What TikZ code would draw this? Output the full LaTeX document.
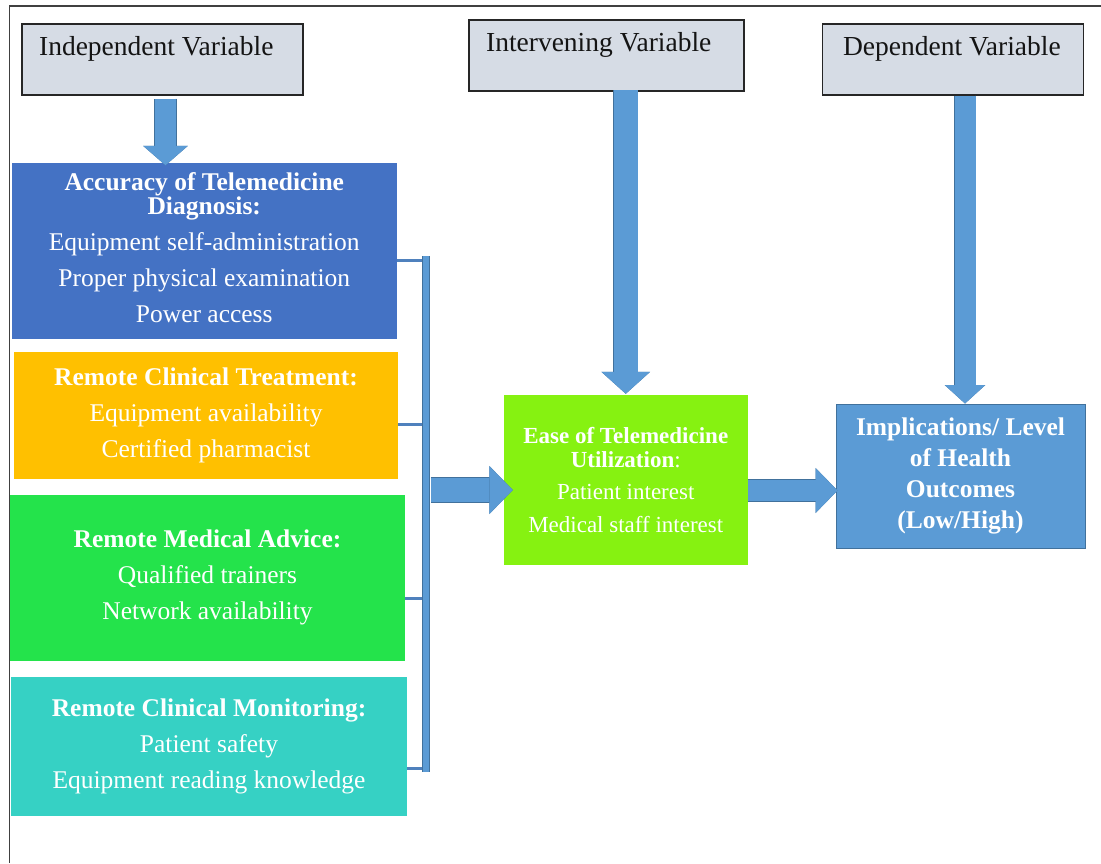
\documentclass[tikz,border=0pt]{standalone}
\usepackage{fontspec}
\setmainfont{Liberation Serif}
\usetikzlibrary{arrows.meta,positioning}
\begin{document}
\begin{tikzpicture}[x=1pt,y=-1pt,
  varbox/.style={draw=r38g38b38, line width=1.2pt, fill=r214g220b229, minimum height=71pt, inner sep=0pt},
  vartext/.style={inner sep=0pt, text=r20g20b20, font=\fontsize{27.5}{30}\selectfont},
  factor/.style={inner sep=0pt, text=white, align=center, font=\fontsize{25.5}{24}\selectfont},
  bigarrow/.style args={#1/#2/#3}{draw=r91g155b213, line width=#1,
    -{Triangle[length=#3,width=#2,line width=0pt]},
    preaction={draw=r65g113b156, line width=#1+1.4pt, -{Triangle[length=#3,width=#2,line width=1.4pt]}}},
  joinbar/.style={draw=r65g113b156, line width=1.2pt, double=r91g155b213, double distance=6.5pt},
  jointick/.style={draw=r79g129b189, line width=3pt}]
                            \useasboundingbox (0,0) rectangle (1101,863);
                            
                            % Colours
                            \definecolor{r38g38b38}{RGB}{38,38,38}%
                            \definecolor{r20g20b20}{RGB}{20,20,20}%
                            \definecolor{r64g64b64}{RGB}{64,64,64}%
                            \definecolor{r214g220b229}{RGB}{214,220,229}%
                            \definecolor{r68g114b196}{RGB}{68,114,196}%
                            \definecolor{r255g192b0}{RGB}{255,192,0}%
                            \definecolor{r36g227b75}{RGB}{36,227,75}%
                            \definecolor{r54g209b196}{RGB}{54,209,196}%
                            \definecolor{r134g242b17}{RGB}{134,242,17}%
                            \definecolor{r91g155b213}{RGB}{91,155,213}%
                            \definecolor{r65g113b156}{RGB}{65,113,156}%
                            \definecolor{r79g129b189}{RGB}{79,129,189}%
                            
                            % Drawing the outer frame (cut at right and bottom)
                            \draw [r64g64b64, line width=1.5pt] (1101,6) -- (9.5,6) -- (9.5,863);%
                            
                            % Marking the three variable headers
                            \node [varbox, minimum width=281pt] (ivbox) at (162.5,59.5) {};%
                            \node [vartext, below right=13pt and 17.5pt of ivbox.north west] (ivtext) {Independent Variable};%
                            \node [varbox, minimum width=275pt] (mvbox) at (606.5,55.5) {};%
                            \node [vartext, below right=12.5pt and 17.5pt of mvbox.north west] (mvtext) {Intervening Variable};%
                            \node [varbox, minimum width=261pt] (dvbox) at (953,59.5) {};%
                            \node [vartext, below right=13pt and 21pt of dvbox.north west] (dvtext) {Dependent Variable};%
                            
                            % Marking the four factor boxes
                            \node [factor, fill=r68g114b196, minimum width=384.5pt, minimum height=176pt] (diag) at (204.25,251)
                              {\textbf{Accuracy of Telemedicine}\\\textbf{Diagnosis:}\\[12pt]Equipment self-administration\\[12pt]Proper physical examination\\[12pt]Power access\rule[-7pt]{0pt}{7pt}};%
                            \node [factor, fill=r255g192b0, minimum width=384pt, minimum height=127pt] (treat) at (206,415.5)
                              {\textbf{Remote Clinical Treatment:}\\[12pt]Equipment availability\\[12pt]Certified pharmacist};%
                            \node [factor, fill=r36g227b75, minimum width=395pt, minimum height=165.5pt] (advice) at (207.5,577.75)
                              {\textbf{Remote Medical Advice:}\\[12pt]Qualified trainers\\[12pt]Network availability};%
                            \node [factor, fill=r54g209b196, minimum width=396pt, minimum height=139.5pt] (monit) at (209,746.25)
                              {\textbf{Remote Clinical Monitoring:}\\[12pt]Patient safety\\[12pt]Equipment reading knowledge};%
                            
                            % Marking the intervening and the outcome boxes
                            \node [factor, fill=r134g242b17, font=\fontsize{23}{24}\selectfont, minimum width=243.5pt, minimum height=170pt] (ease) at (625.75,480)
                              {\textbf{Ease of Telemedicine}\\\textbf{Utilization}:\\[8pt]Patient interest\\[9pt]Medical staff interest};%
                            \node [factor, fill=r91g155b213, draw=r65g113b156, line width=1pt, font=\fontsize{25.5}{31}\selectfont, minimum width=249pt, minimum height=144pt] (outc) at (960.5,476)
                              {\textbf{Implications/ Level}\\\textbf{of Health}\\\textbf{Outcomes}\\\textbf{(Low/High)}};%
                            
                            % Drawing the bracket that joins the factors
                            \coordinate (b1) at (426,260);%
                            \coordinate (b2) at (426,424.5);%
                            \coordinate (b3) at (426,598);%
                            \coordinate (b4) at (426,768);%
                            \draw [jointick] (diag.east |- b1) -- (b1);%
                            \draw [jointick] (treat.east |- b2) -- (b2);%
                            \draw [jointick] (advice.east |- b3) -- (b3);%
                            \draw [jointick] (monit.east |- b4) -- (b4);%
                            \coordinate (btop) at (426,256);%
                            \coordinate (bbot) at (426,772);%
                            \draw [joinbar] (btop) -- (bbot);%
                            
                            % Drawing the block arrows
                            \coordinate (bout) at (430.5,490);%
                            \coordinate (lvl) at (0,490.5);%
                            \draw [bigarrow=21pt/44.7pt/19.5pt, shorten <=3pt, shorten >=-2.5pt] ([xshift=3pt]ivbox.south) -- ([xshift=3pt]ivbox.south |- diag.north);%
                            \draw [bigarrow=24pt/48.6pt/22pt, shorten <=-1.5pt, shorten >=1pt] (ease.north |- mvbox.south) -- (ease.north);%
                            \draw [bigarrow=21pt/40.5pt/18.5pt] ([xshift=4.5pt]outc.north |- dvbox.south) -- ([xshift=4.5pt]outc.north);%
                            \draw [bigarrow=24pt/48pt/23.5pt, shorten >=-9pt] (bout) -- (ease.west |- bout);%
                            \draw [bigarrow=21pt/45pt/22pt, shorten <=0.5pt, shorten >=-2pt] (ease.east |- lvl) -- (outc.west |- lvl);%
                        \end{tikzpicture}
\end{document}
